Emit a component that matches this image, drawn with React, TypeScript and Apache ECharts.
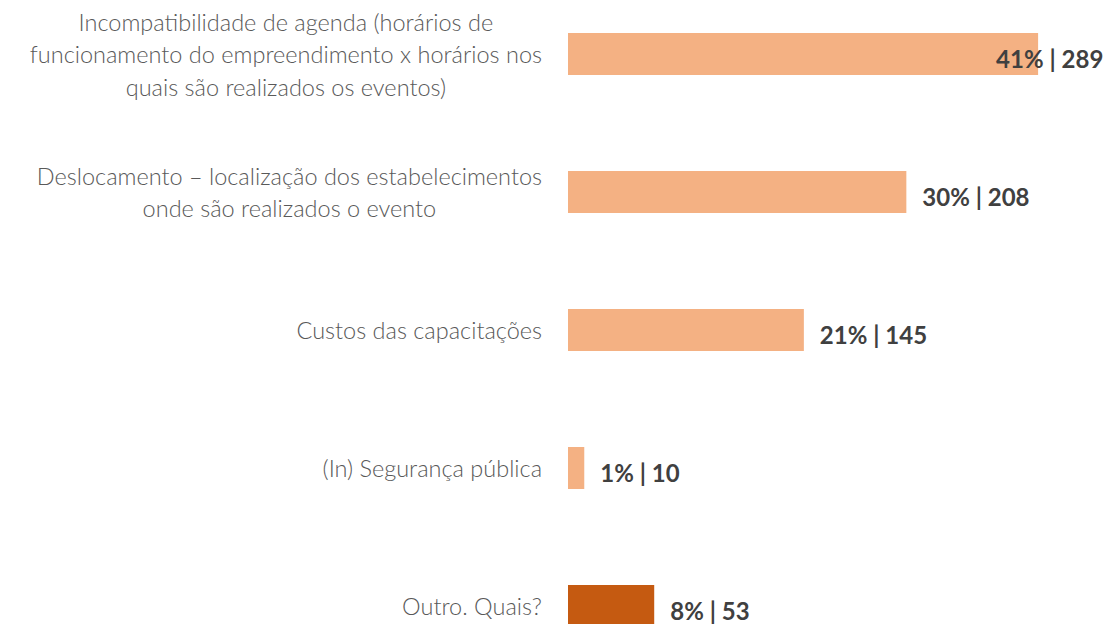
import React, { useEffect, useRef } from "react";
import * as echarts from "echarts";

const categories = [
  "Incompatibilidade de agenda (horários de\nfuncionamento do empreendimento x horários nos\nquais são realizados os eventos)",
  "Deslocamento – localização dos estabelecimentos\nonde são realizados o evento",
  "Custos das capacitações",
  "(In) Segurança pública",
  "Outro. Quais?",
];
const counts = [289, 208, 145, 10, 53];
const percents = [41, 30, 21, 1, 8];
const colors = ["#F4B183", "#F4B183", "#F4B183", "#F4B183", "#C55A11"];

export default function App() {
  const ref = useRef<HTMLDivElement>(null);
  useEffect(() => {
    if (!ref.current) return;
    const chart = echarts.init(ref.current, null, { renderer: "svg" });
    chart.setOption({
      animation: false,
      grid: { left: 568, right: 53, top: 0, bottom: 0, containLabel: false },
      xAxis: {
        type: "value",
        min: 0,
        max: 300,
        show: false,
      },
      yAxis: {
        type: "category",
        inverse: true,
        data: categories,
        axisLine: { show: false },
        axisTick: { show: false },
        splitLine: { show: false },
        axisLabel: {
          margin: 26,
          align: "right",
          formatter: (v: string) =>
            v
              .split("\n")
              .map((l) => `{c|${l}}`)
              .join("\n"),
          rich: {
            c: {
              align: "center",
              fontFamily: "Lato",
              fontWeight: 300,
              fontSize: 23.5,
              lineHeight: 32.5,
              color: "#595959",
            },
          },
        },
      },
      series: [
        {
          type: "bar",
          barWidth: 42,
          data: counts.map((c, i) => ({
            value: c,
            itemStyle: { color: colors[i] },
            label: i === 0 ? { offset: [-58, 4] } : undefined,
          })),
          label: {
            show: true,
            position: "right",
            distance: 16,
            offset: [0, 4],
            fontFamily: "Lato",
            fontWeight: "bold",
            fontSize: 24,
            color: "#404040",
            formatter: (p: any) => `${percents[p.dataIndex]}% | ${counts[p.dataIndex]}`,
          },
        },
      ],
    });
    return () => chart.dispose();
  }, []);
  return (
    <div
      ref={ref}
      style={{ position: "fixed", left: 0, top: -15, width: 1109, height: 690, background: "#fff" }}
    />
  );
}
